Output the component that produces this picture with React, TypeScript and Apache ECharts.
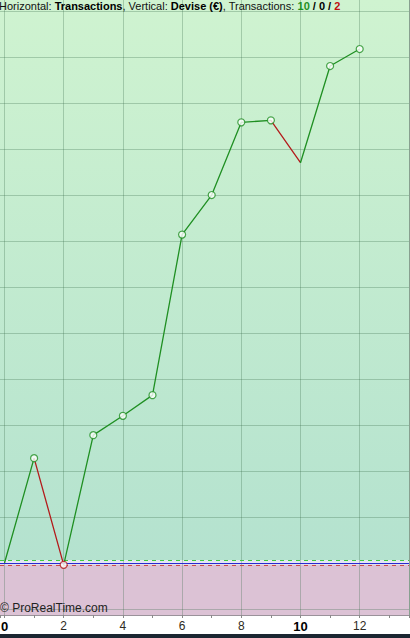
import React, { useEffect, useRef } from "react";
import * as echarts from "echarts";

// Trade index (horizontal) and cumulative equity in € (vertical)
const tradeIndex = [0, 1, 2, 3, 4, 5, 6, 7, 8, 9, 10, 11, 12];
const equity = [0, 1140, -20, 1390, 1600, 1825, 3570, 4000, 4790, 4812, 4351, 5402, 5587];
const xTickLabelsBold = [0, 10];
const yGridStep = 500;
const xGridStep = 2;
const upperRef = 33; // green dashed reference
const lowerRef = -20; // red dashed reference
const stats = { winners: 10, neutral: 0, losers: 2 };

const GREEN = "#1f8f22";
const RED = "#b31b1b";

export default function App() {
  const ref = useRef<HTMLDivElement>(null);
  useEffect(() => {
    if (!ref.current) return;
    const chart = echarts.init(ref.current, undefined, { renderer: "svg" });

    const data = tradeIndex.map((x, i) => [x, equity[i]]);
    const pieces: any[] = [];
    for (let i = 0; i < equity.length - 1; i++) {
      if (equity[i + 1] < equity[i]) pieces.push({ gt: tradeIndex[i], lt: tradeIndex[i + 1], color: RED });
    }
    let hi = equity[0];
    let lo = equity[0];
    const marks: any[] = [];
    for (let i = 1; i < equity.length; i++) {
      if (equity[i] > hi) {
        hi = equity[i];
        marks.push({ value: [tradeIndex[i], equity[i]], itemStyle: { borderColor: GREEN } });
      } else if (equity[i] < lo) {
        lo = equity[i];
        marks.push({ value: [tradeIndex[i], equity[i]], itemStyle: { borderColor: RED } });
      }
    }

    const yMin = -565;
    const yMax = 6120;
    const xMin = -0.152;
    const xMax = 13.666;
    const gridColor = "rgba(60,110,75,0.3)";

    chart.setOption({
      animation: false,
      grid: { left: 0, right: 1, top: 0, bottom: 23, containLabel: false, outerBoundsMode: "none" },
      xAxis: {
        type: "value",
        min: xMin,
        max: xMax,
        minInterval: xGridStep,
        maxInterval: xGridStep,
        z: 2,
        axisLine: { show: true, onZero: false, lineStyle: { color: "#9a929a", width: 1 } },
        axisTick: { show: true, length: 3, lineStyle: { color: "#8a8a8a" } },
        minorTick: { show: true, splitNumber: 2, length: 3, lineStyle: { color: "#8a8a8a" } },
        splitLine: {
          show: true,
          showMinLine: false,
          showMaxLine: false,
          lineStyle: { color: gridColor, width: 1 },
        },
        axisLabel: {
          show: true,
          margin: 5,
          showMinLabel: false,
          showMaxLabel: false,
          hideOverlap: false,
          formatter: (v: number) => {
            if (Math.abs(v - Math.round(v)) > 1e-6) return "";
            const r = Math.round(v);
            return xTickLabelsBold.includes(r) ? `{b|${r}}` : `{n|${r}}`;
          },
          rich: {
            b: { fontFamily: "Liberation Sans", fontSize: 13, fontWeight: "bold", color: "#000" },
            n: { fontFamily: "Liberation Sans", fontSize: 12, color: "#2e2a22" },
          },
        },
      },
      yAxis: {
        type: "value",
        position: "right",
        min: yMin,
        max: yMax,
        minInterval: yGridStep,
        maxInterval: yGridStep,
        z: 2,
        axisLine: { show: true, onZero: false, lineStyle: { color: "#88a090", width: 1 } },
        axisTick: { show: false },
        axisLabel: { show: false },
        splitLine: {
          show: true,
          showMinLine: false,
          showMaxLine: false,
          lineStyle: { color: gridColor, width: 1 },
        },
      },
      visualMap: {
        type: "piecewise",
        show: false,
        dimension: 0,
        seriesIndex: 1,
        pieces,
        outOfRange: { color: GREEN },
      },
      series: [
        {
          type: "line",
          z: 0,
          silent: true,
          data,
          symbol: "none",
          lineStyle: { opacity: 0 },
          markArea: {
            silent: true,
            z: 0,
            data: [
              [
                {
                  yAxis: 0,
                  itemStyle: {
                    color: new echarts.graphic.LinearGradient(0, 0, 0, 1, [
                      { offset: 0, color: "#cff3d0" },
                      { offset: 1, color: "#b4e2cf" },
                    ]),
                  },
                },
                { yAxis: yMax },
              ],
              [{ yAxis: yMin, itemStyle: { color: "#dcc2d5" } }, { yAxis: 0 }],
            ],
          },
        },
        {
          type: "line",
          z: 4,
          data,
          symbol: "none",
          lineStyle: { width: 1.3 },
          markArea: {
            silent: true,
            z: 1,
            data: [[{ yAxis: lowerRef, itemStyle: { color: "#e4e6f3" } }, { yAxis: upperRef }]],
          },
          markLine: {
            silent: true,
            z: 3,
            symbol: "none",
            label: { show: false },
            data: [
              { yAxis: upperRef, lineStyle: { color: "#3fcc3f", type: [4, 4], width: 1 } },
              { yAxis: 0, lineStyle: { color: "#2a2ad0", type: "solid", width: 1 } },
              { yAxis: lowerRef, lineStyle: { color: "#cc4a4a", type: [4, 4], width: 1 } },
            ],
          },
        },
        {
          type: "scatter",
          z: 5,
          data: marks,
          symbol: "circle",
          symbolSize: 7,
          itemStyle: { color: "#ffffff", borderWidth: 1.2 },
        },
      ],
      graphic: [
        {
          type: "text",
          left: -1,
          top: 0,
          z: 10,
          style: {
            text:
              "Horizontal: {b|Transactions}, Vertical: {b|Devise (€)}, Transactions: " +
              `{g|${stats.winners}}{b| / ${stats.neutral} / }{r|${stats.losers}}`,
            fontFamily: "Liberation Sans",
            fontSize: 11,
            fill: "#111",
            rich: {
              b: { fontFamily: "Liberation Sans", fontSize: 11, fontWeight: "bold", fill: "#000" },
              g: { fontFamily: "Liberation Sans", fontSize: 11, fontWeight: "bold", fill: "#1f8f1f" },
              r: { fontFamily: "Liberation Sans", fontSize: 11, fontWeight: "bold", fill: "#c01010" },
            },
          },
        },
        {
          type: "text",
          left: 0,
          top: 602,
          z: 10,
          style: { text: "© ProRealTime.com", fontFamily: "Liberation Sans", fontSize: 12, fill: "#222" },
        },
        {
          type: "rect",
          left: 0,
          top: 634,
          z: 10,
          shape: { width: 410, height: 4 },
          style: { fill: "#1b2631" },
        },
      ],
    });
    return () => chart.dispose();
  }, []);
  return (
    <div
      ref={ref}
      style={{ position: "fixed", left: 0, top: 0, width: 410, height: 638, background: "#ffffff" }}
    />
  );
}
